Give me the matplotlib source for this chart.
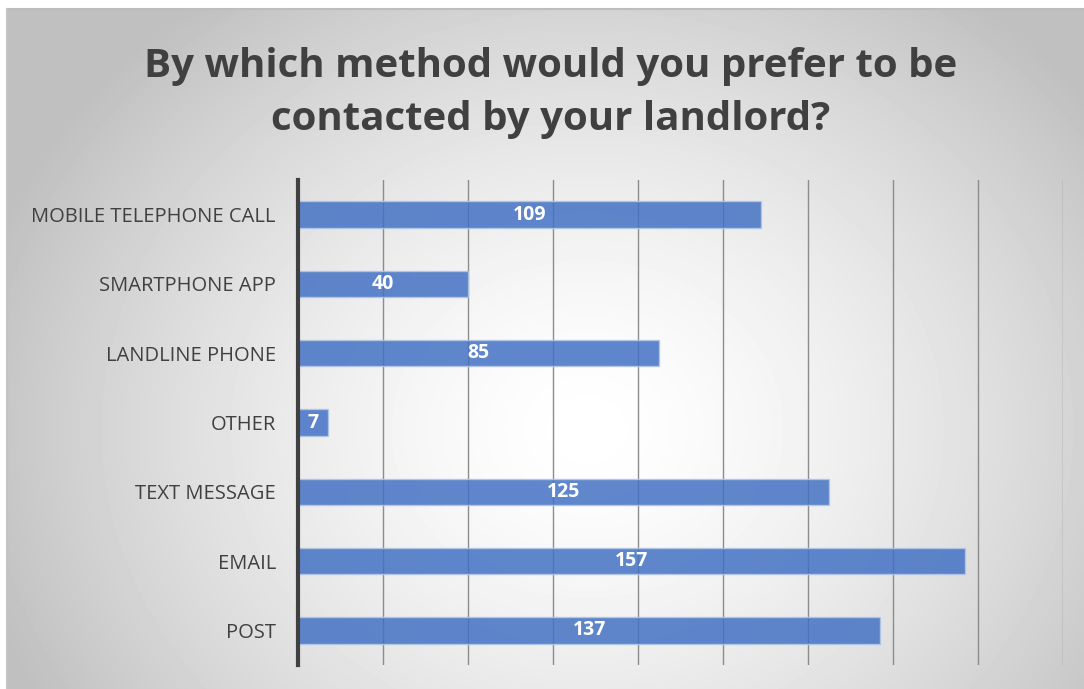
import matplotlib.pyplot as plt
import numpy as np

categories = ['MOBILE TELEPHONE CALL', 'SMARTPHONE APP', 'LANDLINE PHONE', 'OTHER',
              'TEXT MESSAGE', 'EMAIL', 'POST']
counts = [109, 40, 85, 7, 125, 157, 137]
title = 'By which method would you prefer to be\ncontacted by your landlord?'

W, H = 1084, 689
fig = plt.figure(figsize=(W / 100, H / 100), dpi=100)
fig.patch.set_facecolor('white')

# radial gradient backdrop inside the frame
bg = fig.add_axes([7 / W, 0, 1 - 7 / W, 1 - 9 / H])
yy, xx = np.mgrid[0:680, 0:1077]
r = np.sqrt(((xx - 580) / 650) ** 2 + ((yy - 420) / 560) ** 2)
shade = np.clip(1.0 - 0.26 * r ** 1.5, 0.75, 1.0)
bg.imshow(shade, cmap='gray', vmin=0, vmax=1, aspect='auto', extent=[0, 1, 0, 1])
bg.set_axis_off()
fig.add_artist(plt.Line2D([7 / W, 1], [1 - 9 / H, 1 - 9 / H], color='#bdbdbd', lw=1.5))
fig.add_artist(plt.Line2D([7 / W, 7 / W], [0, 1 - 9 / H], color='#c4c4c4', lw=1.5))

ax = fig.add_axes([298 / W, 1 - 665 / H, (1063 - 298) / W, (665 - 180) / H])
ax.patch.set_alpha(0)
y = np.arange(len(categories))
bars = ax.barh(y, counts, height=0.38, color='#4472C4', alpha=0.85,
               edgecolor='#b4c7e7', linewidth=1, zorder=3)
ax.set_xlim(0, 180)
ax.set_ylim(len(categories) - 0.5, -0.5)
ax.set_xticks(np.arange(0, 181, 20))
ax.set_xticklabels([])
ax.tick_params(axis='x', length=0)
ax.tick_params(axis='y', length=0, pad=16)
ax.grid(axis='x', color='#8c8c8c', lw=1, zorder=0)
ax.set_yticks(y)
ax.set_yticklabels(categories, fontsize=14.5, color='#404040', family='Open Sans')
for s in ['top', 'right', 'bottom']:
    ax.spines[s].set_visible(False)
ax.spines['left'].set_color('#404040')
ax.spines['left'].set_linewidth(3)
ax.spines['left'].set_zorder(5)

for b, v in zip(bars, counts):
    ax.text(v / 2, b.get_y() + b.get_height() / 2, str(v), ha='center', va='center',
            color='white', fontsize=14, fontweight='bold', family='Open Sans', zorder=4)

fig.text(0.508, 1 - 93 / H, title, ha='center', va='center', fontsize=29,
         fontweight='bold', color='#404040', family='Open Sans', linespacing=1.48)

fig.savefig('out.png', dpi=100)
